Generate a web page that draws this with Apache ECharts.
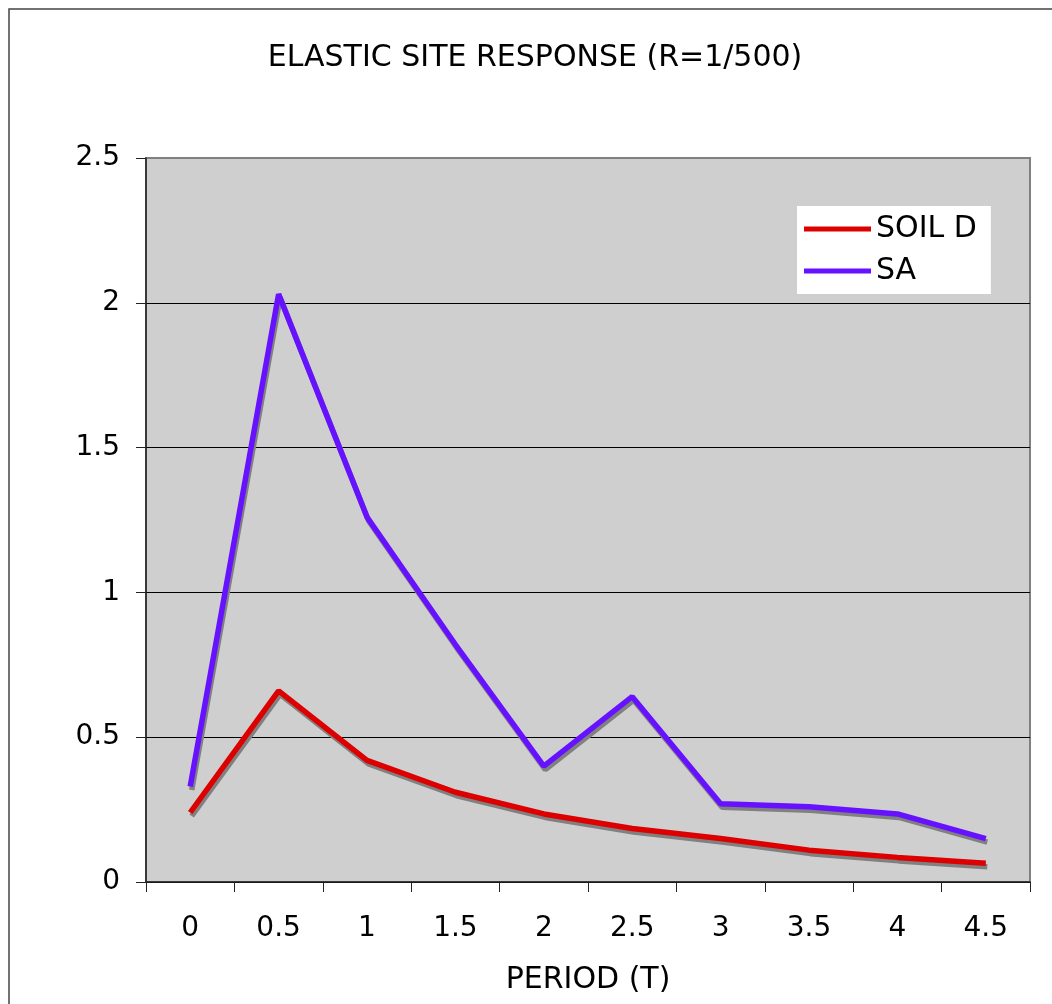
<!DOCTYPE html>
<html>
<head>
<meta charset="utf-8">
<title>Elastic Site Response</title>
<script src="https://cdn.jsdelivr.net/npm/echarts@6/dist/echarts.min.js"></script>
<style>
  html, body { margin: 0; padding: 0; background: #fff; }
  #chart { width: 1052px; height: 1004px; }
</style>
</head>
<body>
<div id="chart"></div>
<script>
// Period (T) categories along the x axis
const periods = ['0', '0.5', '1', '1.5', '2', '2.5', '3', '3.5', '4', '4.5'];
// Spectral acceleration, soil class D
const soilD = [0.24, 0.66, 0.42, 0.31, 0.235, 0.185, 0.15, 0.11, 0.085, 0.065];
// Spectral acceleration, SA
const sa = [0.33, 2.03, 1.26, 0.82, 0.40, 0.64, 0.27, 0.26, 0.235, 0.15];
// Y axis range
const yMin = 0, yMax = 2.5, yStep = 0.5;

const FONT = 'DejaVu Sans';

const lineShadow = {
  shadowColor: '#808080',
  shadowBlur: 0,
  shadowOffsetX: 1.5,
  shadowOffsetY: 3.5
};

const chart = echarts.init(document.getElementById('chart'), null, { renderer: 'canvas' });

chart.setOption({
  animation: false,
  backgroundColor: '#ffffff',
  textStyle: { fontFamily: FONT, color: '#000' },
  graphic: [
    {
      type: 'rect',
      z: -10,
      shape: { x: 9, y: 9, width: 1200, height: 1200 },
      style: { fill: 'none', stroke: '#444', lineWidth: 1.5 }
    },
    {
      type: 'text',
      x: 535,
      y: 58,
      style: {
        text: 'ELASTIC SITE RESPONSE (R=1/500)',
        fontFamily: FONT,
        fontSize: 30,
        fill: '#000',
        textAlign: 'center',
        textVerticalAlign: 'middle'
      }
    }
  ],
  grid: {
    left: 146,
    right: 22,
    top: 158,
    bottom: 122,
    show: true,
    backgroundColor: '#cfcfcf',
    borderColor: '#808080',
    borderWidth: 2
  },
  legend: {
    data: ['SOIL D', 'SA'],
    orient: 'vertical',
    left: 797,
    top: 206,
    padding: [8, 14, 8, 7],
    backgroundColor: '#ffffff',
    icon: 'rect',
    itemWidth: 67,
    itemHeight: 5,
    itemGap: 12,
    textStyle: { fontFamily: FONT, fontSize: 30, lineHeight: 30, color: '#000' }
  },
  xAxis: {
    type: 'category',
    data: periods,
    boundaryGap: true,
    name: 'PERIOD (T)',
    nameLocation: 'middle',
    nameGap: 83,
    nameTextStyle: { fontFamily: FONT, fontSize: 30, color: '#000' },
    axisLine: { show: true, lineStyle: { color: '#222', width: 1.5 } },
    axisTick: { show: true, length: 10, inside: false, alignWithLabel: false, lineStyle: { color: '#222' } },
    axisLabel: { margin: 33, fontFamily: FONT, fontSize: 28, color: '#000' },
    splitLine: { show: false }
  },
  yAxis: {
    type: 'value',
    min: yMin,
    max: yMax,
    interval: yStep,
    axisLine: { show: true, lineStyle: { color: '#222', width: 1.5 } },
    axisTick: { show: true, length: 10, inside: false, lineStyle: { color: '#222' } },
    axisLabel: { margin: 26, fontFamily: FONT, fontSize: 28, color: '#000' },
    splitLine: {
      show: true,
      lineStyle: { color: ['#000', '#000', '#000', '#000', '#000', '#808080'], width: 1 }
    }
  },
  series: [
    {
      name: 'SOIL D',
      type: 'line',
      data: soilD,
      symbol: 'none',
      color: '#dd0000',
      lineStyle: Object.assign({ color: '#dd0000', width: 5.5 }, lineShadow)
    },
    {
      name: 'SA',
      type: 'line',
      data: sa,
      symbol: 'none',
      color: '#6611ff',
      lineStyle: Object.assign({ color: '#6611ff', width: 5.5 }, lineShadow)
    }
  ]
});
</script>
</body>
</html>
